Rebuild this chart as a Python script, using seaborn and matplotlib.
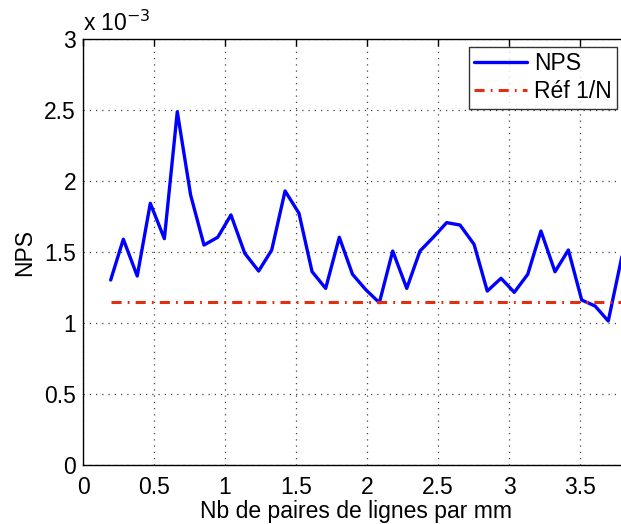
import numpy as np
import pandas as pd
import matplotlib
matplotlib.use("Agg")
import matplotlib.pyplot as plt
import seaborn as sns

# Nb de paires de lignes par mm
freq = [0.195, 0.284, 0.382, 0.474, 0.573, 0.664, 0.758, 0.852, 0.949, 1.042,
        1.139, 1.237, 1.329, 1.423, 1.521, 1.613, 1.709, 1.805, 1.898, 1.993,
        2.087, 2.181, 2.280, 2.373, 2.467, 2.561, 2.655, 2.754, 2.847, 2.944,
        3.037, 3.132, 3.225, 3.324, 3.418, 3.512, 3.606, 3.699, 3.795]
# NPS (x 10^-3)
nps = [1.305, 1.592, 1.333, 1.845, 1.596, 2.490, 1.903, 1.551, 1.606, 1.763,
       1.493, 1.368, 1.516, 1.932, 1.775, 1.364, 1.246, 1.606, 1.345, 1.235,
       1.145, 1.509, 1.246, 1.509, 1.606, 1.709, 1.692, 1.556, 1.227, 1.317,
       1.218, 1.345, 1.650, 1.363, 1.516, 1.164, 1.122, 1.016, 1.470]
ref = 1.152

df = pd.DataFrame({"freq": freq, "NPS": nps, "ref": [ref] * len(freq)})

sns.set_style("white")
plt.rcParams["font.family"] = ["Liberation Sans", "DejaVu Sans"]
plt.rcParams["text.color"] = "black"
plt.rcParams["axes.labelcolor"] = "black"

fs = 16.5

fig = plt.figure(figsize=(6.21, 5.24), dpi=100)
ax = fig.add_axes([83 / 621, 1 - 465.3 / 524, 568 / 621, 426 / 524])

sns.lineplot(data=df, x="freq", y="NPS", ax=ax, color="#0000ff", lw=2.4, label="NPS")
sns.lineplot(data=df, x="freq", y="ref", ax=ax, color="#e03010", lw=2.2,
             label="Réf 1/N", linestyle=(0, (3.3, 2.0, 0.6, 2.0)))

ax.set_xlim(0, 4)
ax.set_ylim(0, 3)
ax.set_xticks([0, 0.5, 1, 1.5, 2, 2.5, 3, 3.5])
ax.set_xticklabels(["0", "0.5", "1", "1.5", "2", "2.5", "3", "3.5"])
ax.set_yticks([0, 0.5, 1, 1.5, 2, 2.5, 3])
ax.set_yticklabels(["0", "0.5", "1", "1.5", "2", "2.5", "3"])
ax.tick_params(direction="in", length=5, width=1, labelsize=fs, top=True,
               right=True, colors="black", pad=5)
ax.tick_params(axis="x", pad=8)
ax.grid(True, linestyle=(0, (1, 4)), color="#444444", linewidth=0.9)
for s in ax.spines.values():
    s.set_color("black")
    s.set_linewidth(1)

ax.set_xlabel("Nb de paires de lignes par mm", fontsize=fs)
ax.xaxis.set_label_coords((356 - 83) / 568, -0.082)
ax.set_ylabel("NPS", fontsize=fs, labelpad=6)
ax.text(0.0, 1.008, r"x 10$^{-3}$", transform=ax.transAxes, fontsize=fs,
        ha="left", va="bottom")

leg = ax.legend(loc="upper right", bbox_to_anchor=(0.941, 0.983), fontsize=fs,
                frameon=True, fancybox=False, edgecolor="black",
                handlelength=2.3, borderpad=0.25, labelspacing=0.2,
                handletextpad=0.3, borderaxespad=0)
leg.get_frame().set_linewidth(1)

fig.savefig("out.png", dpi=100)
